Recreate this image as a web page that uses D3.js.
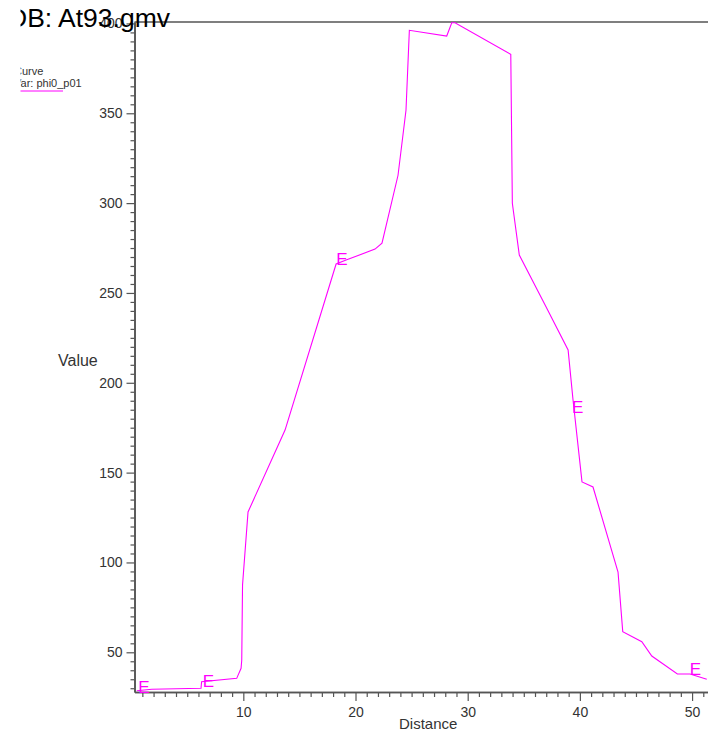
<!DOCTYPE html>
<html>
<head>
<meta charset="utf-8">
<script src="https://cdn.jsdelivr.net/npm/d3@7"></script>
<style>
  html, body { margin: 0; padding: 0; background: #fff; }
  svg { display: block; font-family: "Liberation Sans", Arial, sans-serif; }
</style>
</head>
<body>
<svg id="chart" width="708" height="735"></svg>
<script>
// ---- data ----
const distance = [0.50, 1.84, 6.23, 6.28, 9.41, 9.80, 9.86, 9.93, 10.42, 13.72, 18.27, 19.16, 21.74, 22.36, 23.79, 24.50, 24.80, 28.13, 28.58, 28.87, 33.84, 33.98, 34.60, 36.90, 38.95, 39.39, 40.19, 41.17, 43.40, 43.82, 45.52, 46.41, 48.69, 49.82, 51.31];
const value = [28.6, 29.4, 30.0, 33.6, 35.5, 41.1, 45.7, 87.5, 128.1, 173.7, 266.1, 268.3, 274.4, 277.7, 315.5, 351.7, 396.2, 393.0, 400.4, 400.4, 382.8, 299.9, 271.1, 243.3, 218.3, 190.4, 144.8, 142.0, 94.7, 61.5, 55.9, 47.9, 37.9, 37.9, 35.0];
const markerDistance = [1.15, 6.9, 18.8, 39.8, 50.3];
const markerValue = [30.7, 34.0, 269.1, 186.7, 40.7];
const xTicks = [10, 20, 30, 40, 50];
const yTicks = [50, 100, 150, 200, 250, 300, 350, 400];
const xMinor = d3.range(1, 52, 1);
const yMinor = d3.range(30, 401, 5);
const titleText = "DB: At93.gmv";
const legendLines = ["Curve", "Var: phi0_p01"];
const xLabel = "Distance";
const yLabel = "Value";

// ---- layout ----
const svg = d3.select("#chart");
const pLeft = 134.5, pRight = 708, pTop = 22, pBottom = 692;
const x = d3.scaleLinear().domain([0.30, 51.42]).range([pLeft, pRight]);
const y = d3.scaleLinear().domain([27.9, 400.8]).range([pBottom, pTop]);
const axisColor = "#555";
const textColor = "#333";
const curveColor = "#ff00ff";

svg.append("defs").append("clipPath").attr("id", "plotclip")
  .append("rect").attr("x", pLeft).attr("y", pTop - 2).attr("width", pRight - pLeft).attr("height", pBottom - pTop + 2);

// top border line
svg.append("line").attr("x1", pLeft).attr("x2", pRight).attr("y1", pTop).attr("y2", pTop)
  .attr("stroke", axisColor).attr("stroke-width", 1.6);

// x axis minor
const gxm = svg.append("g").attr("transform", `translate(0,${pBottom})`)
  .call(d3.axisBottom(x).tickValues(xMinor.filter(v => !xTicks.includes(v))).tickSize(5).tickSizeOuter(0).tickFormat(""));
// x axis major
const gx = svg.append("g").attr("transform", `translate(0,${pBottom})`)
  .call(d3.axisBottom(x).tickValues(xTicks).tickSize(9).tickSizeOuter(0).tickPadding(6));
// y axis minor
const gym = svg.append("g").attr("transform", `translate(${pLeft},0)`)
  .call(d3.axisLeft(y).tickValues(yMinor.filter(v => !yTicks.includes(v))).tickSize(4).tickSizeOuter(0).tickFormat(""));
// y axis major
const gy = svg.append("g").attr("transform", `translate(${pLeft},0)`)
  .call(d3.axisLeft(y).tickValues(yTicks).tickSize(8).tickSizeOuter(0).tickPadding(4));

[gxm, gx, gym, gy].forEach(g => {
  g.selectAll("path.domain").attr("stroke", axisColor).attr("stroke-width", 1.6);
  g.selectAll(".tick line").attr("stroke", axisColor).attr("stroke-width", 1.2);
  g.selectAll(".tick text").attr("fill", textColor).style("font-size", "14px")
    .style("font-family", "'Liberation Sans', Arial, sans-serif");
});

// curve
const line = d3.line().x((d, i) => x(distance[i])).y((d, i) => y(value[i]));
svg.append("path").datum(value)
  .attr("clip-path", "url(#plotclip)")
  .attr("d", line).attr("fill", "none").attr("stroke", curveColor).attr("stroke-width", 1.1);

// E markers
svg.append("g").selectAll("text").data(markerValue).join("text")
  .attr("x", (d, i) => x(markerDistance[i]))
  .attr("y", d => y(d))
  .attr("text-anchor", "middle").attr("dy", "0.36em")
  .attr("fill", curveColor).style("font-size", "17px")
  .text("E");

// axis titles
svg.append("text").attr("x", 399).attr("y", 729).attr("fill", textColor)
  .style("font-size", "15px").text(xLabel);
svg.append("text").attr("x", 58).attr("y", 366).attr("fill", textColor)
  .style("font-size", "16px").text(yLabel);

// title
svg.append("text").attr("x", 8).attr("y", 27).attr("fill", "#000")
  .style("font-size", "26.5px").text(titleText);

// legend
svg.append("g").selectAll("text").data(legendLines).join("text")
  .attr("x", 14).attr("y", (d, i) => 74.5 + i * 12.5)
  .attr("fill", textColor).style("font-size", "11px").text(d => d);
svg.append("line").attr("x1", 20).attr("x2", 63).attr("y1", 91).attr("y2", 91)
  .attr("stroke", curveColor).attr("stroke-width", 1);

// left clip of the viewport
svg.append("rect").attr("x", 0).attr("y", 0).attr("width", 20.5).attr("height", 735).attr("fill", "#fff");
</script>
</body>
</html>
